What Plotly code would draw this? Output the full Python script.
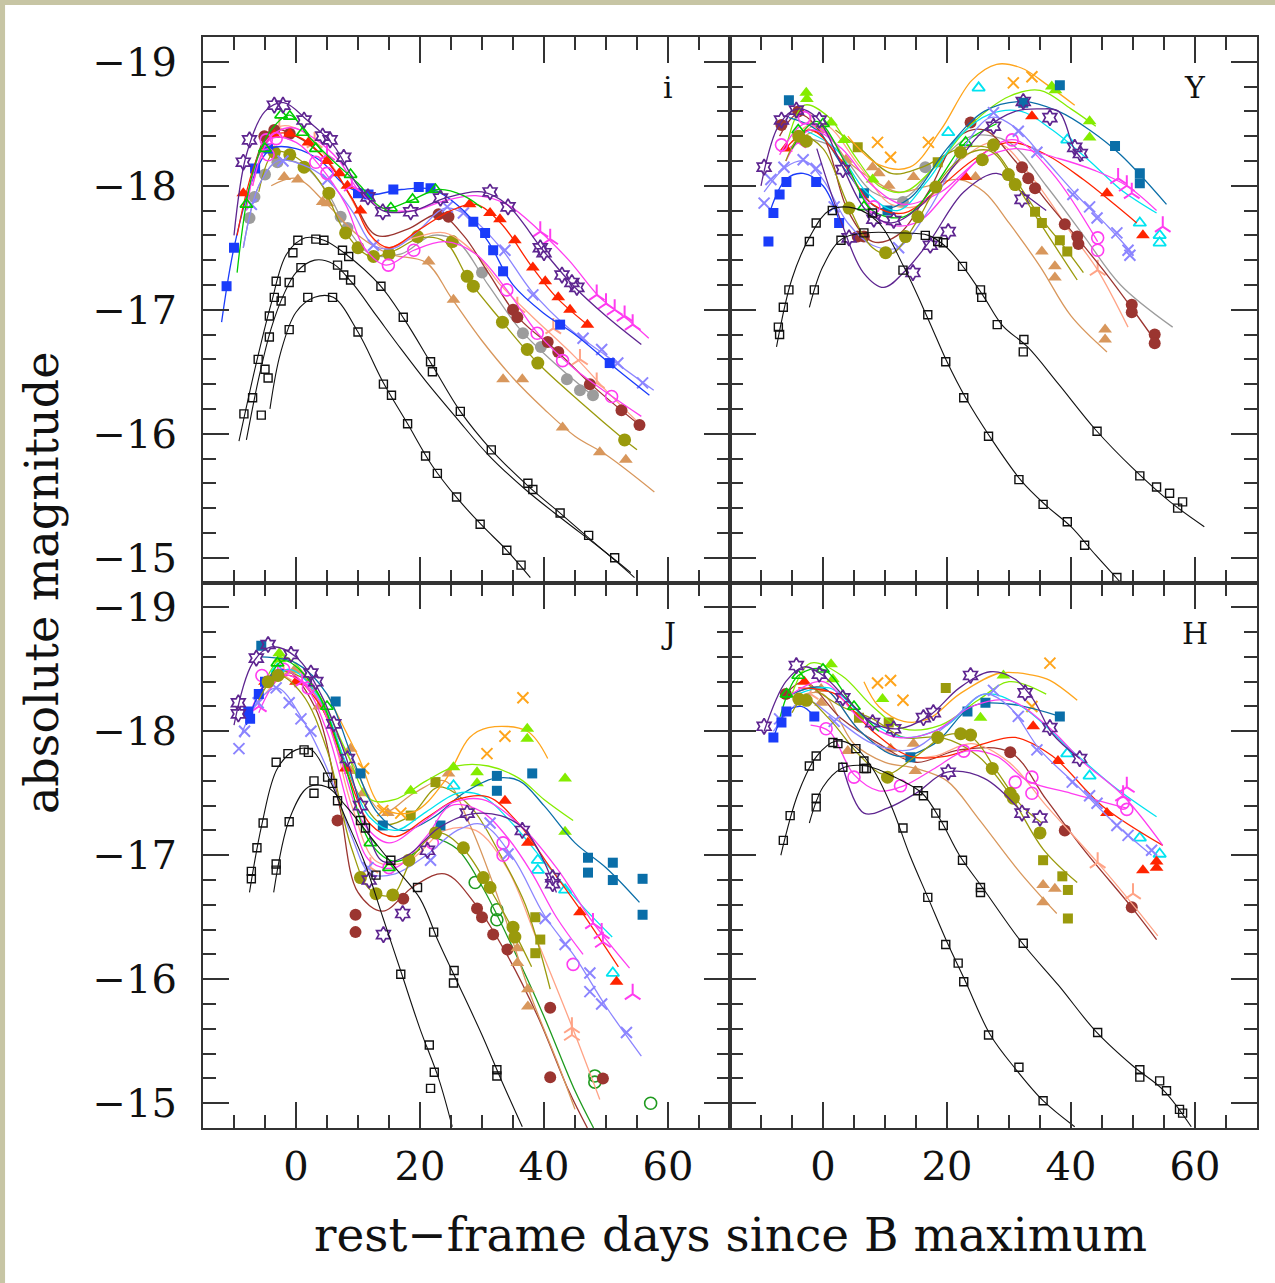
import plotly.graph_objects as go
from plotly.subplots import make_subplots

# ---------------- axis / tick data ----------------
x_range = [-15, 70]
y_range = [-14.8, -19.2]
y_tick_vals = [-19, -18, -17, -16, -15]
y_tick_text = ["\u221219", "\u221218", "\u221217", "\u221216", "\u221215"]
x_tick_vals = [0, 20, 40, 60]
x_tick_text = ["0", "20", "40", "60"]
panel_names = ["i", "Y", "J", "H"]
x_title = "rest\u2212frame days since B maximum"
y_title = "absolute magnitude"

# ---------------- panel i (days, abs mag) ----------------
i_blue_pts = [(-11.2, -17.19), (-10, -17.5), (-6.6, -18.14), (-4.5, -18.3), (10, -17.94), (11.7, -17.93),
              (15.7, -17.97), (19.8, -17.99), (21.7, -17.98), (28.6, -17.71), (30.5, -17.62), (31.8, -17.48),
              (33.4, -17.31), (42.6, -16.88), (50.6, -16.57)]
i_blue_fit = [(-12, -16.9), (-10, -17.5), (-7, -18.05), (-4, -18.3), (0, -18.3), (4, -18.2), (8, -18.0),
              (12, -17.93), (17, -17.97), (22, -17.97), (27, -17.8), (31, -17.55), (35, -17.2), (40, -16.97),
              (45, -16.8), (51, -16.55), (57, -16.31)]
i_red_pts = [(-8.5, -17.94), (-3.5, -18.41), (-1, -18.42), (2, -18.35), (5, -18.2), (7, -18.1), (8.3, -18.0),
             (10.4, -17.8), (28, -17.85), (31.3, -17.78), (32.9, -17.73), (35.3, -17.56), (38.2, -17.34),
             (40.2, -17.23), (42.3, -17.1), (44.2, -17.0), (47, -16.88)]
i_red_fit = [(-9.5, -17.6), (-6, -18.25), (-3, -18.42), (1, -18.38), (5, -18.2), (9, -17.9), (12, -17.6),
             (15, -17.5), (20, -17.65), (25, -17.8), (29, -17.85), (33, -17.7), (38, -17.35), (42, -17.1),
             (47, -16.88)]
i_green_pts = [(-8, -17.85), (-5, -18.3), (-2.4, -18.57), (-1, -18.56), (1.1, -18.43), (3.2, -18.3),
               (8.8, -18.09), (15.3, -17.82), (18.8, -17.89), (22.5, -17.97)]
i_green_fit = [(-9.5, -17.3), (-7, -18.1), (-4, -18.45), (-1, -18.57), (2, -18.4), (6, -18.2), (10, -18.02),
               (14, -17.82), (18, -17.87), (23, -17.97), (27, -17.92), (30, -17.82)]
i_purple_pts = [(-8.5, -18.19), (-7.5, -18.37), (-3.5, -18.65), (-2.1, -18.65), (1.3, -18.53), (4.3, -18.4),
                (5.5, -18.37), (7.7, -18.23), (11.6, -17.91), (14, -17.79), (18.5, -17.79), (23.3, -17.9),
                (31.3, -17.95), (34.2, -17.83), (39.4, -17.5), (40, -17.46), (42.9, -17.28), (44.5, -17.22),
                (45.3, -17.18)]
i_purple_fit = [(-10, -17.6), (-8, -18.25), (-5, -18.6), (-2, -18.67), (2, -18.52), (6, -18.33), (10, -18.0),
                (14, -17.8), (19, -17.8), (24, -17.9), (30, -17.95), (34, -17.85), (40, -17.47), (45, -17.18),
                (50, -16.95), (55.7, -16.72)]
i_magcirc_pts = [(-4.8, -18.37), (-3.2, -18.38), (-4.5, -18.25), (3.2, -18.19), (5, -18.1), (14.9, -17.36),
                 (19, -17.48), (34, -17.16), (38.9, -16.81), (43, -16.59), (50.9, -16.3)]
i_magcirc_fit = [(-7, -18.0), (-4, -18.38), (0, -18.35), (4, -18.15), (8, -17.85), (11, -17.5), (14.5, -17.36),
                 (19, -17.48), (24, -17.55), (29, -17.45), (34, -17.16), (39, -16.81), (45, -16.52), (51, -16.3),
                 (55.7, -16.14)]
i_magtri_pts = [(5, -18.25), (9, -18.0), (39.4, -17.63), (41, -17.57), (48.5, -17.12), (50, -17.05),
                (51.4, -17.0), (53, -16.95), (54.3, -16.88)]
i_magtri_fit = [(-8, -17.8), (-5, -18.35), (-1, -18.47), (3, -18.38), (7, -18.2), (10, -17.97), (14, -17.82),
                (19, -17.8), (24, -17.88), (29, -17.92), (34, -17.85), (39, -17.65), (44, -17.4), (49, -17.1),
                (54, -16.9), (56.9, -16.77)]
i_lslate_pts = [(-7.2, -17.85), (-2.1, -18.2), (5.1, -18.05), (12.5, -17.52), (24.4, -17.83), (27, -17.78),
                (33.7, -17.48), (38.2, -17.12), (46.3, -16.77), (49.3, -16.68), (51.9, -16.57), (55.9, -16.41)]
i_lslate_fit = [(-8.5, -17.5), (-6, -18.0), (-3, -18.2), (1, -18.17), (5, -18.05), (9, -17.8), (12.5, -17.52),
                (16, -17.5), (20, -17.65), (24, -17.82), (28, -17.75), (33, -17.5), (38, -17.15), (44, -16.85),
                (50, -16.63), (57.7, -16.35)]
i_grey_pts = [(-7.5, -17.74), (-6.7, -17.91), (-5, -18.09), (-3, -18.19), (7.2, -17.75), (8.3, -17.66),
              (30, -17.3), (36.6, -16.81), (39.5, -16.7), (43.7, -16.44), (45.8, -16.35), (47.9, -16.31)]
i_grey_fit = [(-8.5, -17.5), (-6, -18.0), (-3, -18.2), (1, -18.17), (5, -17.95), (8, -17.68), (12, -17.45),
              (17, -17.45), (22, -17.6), (26, -17.55), (31, -17.2), (36, -16.85), (41, -16.6), (48, -16.3)]
i_olive_pts = [(-3.5, -18.27), (-1, -18.25), (1.3, -18.15), (5.3, -17.94), (8, -17.62), (10, -17.5),
               (12.5, -17.43), (15, -17.45), (19.6, -17.59), (25.2, -17.55), (27.6, -17.27), (28.6, -17.19),
               (33.3, -16.9), (37.3, -16.68), (39, -16.57), (53, -15.95)]
i_olive_fit = [(-6, -17.95), (-3.5, -18.27), (0, -18.23), (4, -18.02), (8, -17.62), (12, -17.43), (16, -17.48),
               (20, -17.58), (24, -17.55), (28, -17.23), (33, -16.92), (39, -16.57), (46, -16.25), (53, -15.95),
               (55, -15.87)]
i_tan_pts = [(-1.9, -18.07), (0.3, -18.05), (4.3, -17.87), (5.1, -17.86), (21.4, -17.39), (25.4, -17.08),
             (33.4, -16.44), (36.5, -16.44), (43, -16.05), (49, -15.85), (53.2, -15.79)]
i_tan_fit = [(-4, -18.0), (0, -18.06), (5, -17.85), (10, -17.6), (15, -17.45), (21, -17.38), (25, -17.1),
             (30, -16.75), (35, -16.45), (40, -16.2), (45, -15.98), (50, -15.83), (57.8, -15.53)]
i_salmon_pts = [(-2.7, -18.47), (3, -18.35), (35.7, -17.02), (41.5, -16.85), (45.8, -16.6), (48.5, -16.41)]
i_salmon_fit = [(-7, -18.0), (-3, -18.47), (1, -18.44), (6, -18.15), (10, -17.8), (14, -17.5), (19, -17.58),
                (24, -17.62), (29, -17.45), (33, -17.2), (38, -16.95), (45, -16.62), (50, -16.35), (55, -16.1)]
i_brown_pts = [(-5.1, -18.4), (-3.5, -18.45), (-1, -18.42), (23, -17.77), (24.6, -17.75), (35, -17.0),
               (35.7, -16.94), (40.6, -16.74), (42.3, -16.66), (47.4, -16.4), (52.5, -16.19), (55.4, -16.07)]
i_brown_fit = [(-7, -18.1), (-4, -18.45), (0, -18.4), (5, -18.2), (9, -17.9), (13, -17.6), (18, -17.65),
               (23, -17.77), (27, -17.6), (31, -17.3), (36, -16.93), (42, -16.67), (48, -16.38), (55.4, -16.07)]
i_black_a_pts = [(-8.4, -16.16), (-6.1, -16.6), (-4.3, -16.95), (-3.2, -17.23), (-0.5, -17.46), (0.3, -17.56),
                 (3.2, -17.57), (4.5, -17.56), (7.5, -17.48), (8.5, -17.43), (13.7, -17.19), (17.3, -16.94),
                 (21.7, -16.58), (22, -16.5), (26.5, -16.18), (31.5, -15.87), (37.4, -15.6), (38.2, -15.55),
                 (42.6, -15.36), (47.2, -15.18), (51.4, -15.0)]
i_black_a_fit = [(-9.2, -15.94), (-6.5, -16.55), (-4, -17.05), (-1.5, -17.45), (1.5, -17.58), (4.5, -17.56),
                 (8, -17.45), (13.5, -17.2), (17.5, -16.92), (22, -16.55), (26.5, -16.18), (31.5, -15.87),
                 (37.4, -15.58), (42.6, -15.36), (47.2, -15.16), (51.4, -14.98), (54.6, -14.84)]
i_black_b_pts = [(-7, -16.29), (-5, -16.52), (-4.3, -16.78), (-3.5, -17.1), (-2.4, -17.07), (-1.1, -17.22),
                 (0.8, -17.34), (6.7, -17.36), (7.7, -17.28), (8.8, -17.24)]
i_black_b_fit = [(-8, -15.95), (-6, -16.45), (-4, -16.85), (-2, -17.12), (0, -17.3), (3, -17.4), (6, -17.37),
                 (9, -17.22), (13, -16.95), (17, -16.68), (21, -16.42), (26, -16.12), (31, -15.83), (37, -15.55),
                 (43, -15.31), (49, -15.08), (54, -14.88)]
i_black_c_pts = [(-5.6, -16.15), (-4.5, -16.45), (-1.1, -16.84), (1.9, -17.1), (5.9, -17.1), (10, -16.82),
                 (14.1, -16.4), (15.4, -16.31), (18, -16.08), (20.9, -15.82), (22.8, -15.68), (25.9, -15.49),
                 (29.7, -15.27), (34, -15.06), (36.3, -14.94)]
i_black_c_fit = [(-4.2, -16.2), (-2.5, -16.65), (0, -16.98), (3, -17.1), (6, -17.1), (10, -16.82), (14, -16.42),
                 (18, -16.08), (22, -15.74), (26, -15.48), (30, -15.26), (34, -15.06), (37.8, -14.84)]

# ---------------- panel Y ----------------
Y_blue_pts = [(-8.8, -17.55), (-8, -17.78), (-7, -17.93), (-5.9, -18.03), (-1.1, -18.03), (2.6, -17.7)]
Y_blue_fit = [(-8.5, -17.8), (-6, -18.05), (-3.2, -18.1), (0, -18.0), (2.6, -17.72)]
Y_lslate_pts = [(-9.5, -17.86), (-8.4, -18.05), (-6.3, -18.15), (-3.2, -18.21), (-1.1, -18.14), (1.8, -17.83),
                (12.2, -17.5), (27.5, -18.59), (31.5, -18.44), (34.5, -18.27), (40.3, -17.93), (43, -17.83),
                (44.2, -17.74), (47.4, -17.62), (49.2, -17.48), (49.5, -17.44)]
Y_lslate_fit = [(-9.5, -17.95), (-6, -18.15), (-3, -18.2), (0, -18.05), (4, -17.7), (8, -17.52), (12, -17.5),
                (17, -17.8), (22, -18.25), (27, -18.55), (31, -18.47), (36, -18.2), (41, -17.92), (46, -17.67),
                (50, -17.45)]
Y_purple_pts = [(-9.5, -18.15), (-6.7, -18.53), (-4.3, -18.61), (-0.6, -18.53), (3.2, -18.13), (8.2, -17.73),
                (11.4, -17.72), (27.5, -18.48), (32.3, -18.68), (36.6, -18.55), (40.6, -18.31), (41.5, -18.26)]
Y_purple_fit = [(-10, -18.0), (-7, -18.5), (-4, -18.62), (-1, -18.55), (3, -18.17), (7, -17.8), (11, -17.7),
                (16, -17.85), (21, -18.15), (26, -18.45), (31, -18.6), (35, -18.62), (38, -18.6), (40.5, -18.3),
                (42, -18.2)]
Y_purple2_pts = [(4.2, -17.58), (14.5, -17.3), (17.3, -17.52), (20.2, -17.63), (32.1, -17.89)]
Y_purple2_fit = [(-1, -18.3), (3, -17.7), (6.5, -17.3), (9.8, -17.18), (13, -17.3), (17.3, -17.56),
                 (22.7, -17.95), (28, -18.1), (32, -17.95), (36, -17.8)]
Y_lime_pts = [(-2.7, -18.75), (-2.6, -18.7), (1.3, -18.51), (3.4, -18.37), (8, -18.05), (36.9, -18.8),
              (37.5, -18.77), (43, -18.52), (43, -18.39)]
Y_lime_fit = [(-6, -18.3), (-3, -18.65), (1, -18.55), (5, -18.25), (9, -18.0), (13, -17.95), (18, -18.15),
              (24, -18.5), (30, -18.72), (35, -18.77), (40, -18.62), (44, -18.48)]
Y_orange_pts = [(8.8, -18.35), (10.9, -18.23), (17, -18.35), (30.7, -18.83), (33.7, -18.88)]
Y_orange_fit = [(4, -18.4), (9, -18.17), (14, -18.15), (19, -18.45), (24, -18.85), (28, -18.98), (32, -18.95),
                (36, -18.82), (40.6, -18.65)]
Y_steel_pts = [(-5.5, -18.69), (6.6, -17.94), (10.4, -17.8), (32.3, -18.67), (38.2, -18.81), (47.1, -18.32),
               (51.1, -18.1), (51.1, -18.02)]
Y_steel_fit = [(-5.5, -18.55), (-1, -18.45), (4, -18.1), (9, -17.82), (14, -17.9), (20, -18.3), (26, -18.6),
               (32, -18.68), (38, -18.6), (43, -18.45), (48, -18.25), (55.4, -17.85)]
Y_cyan_pts = [(20.2, -18.43), (25.1, -18.79), (39.4, -18.37), (51.1, -17.7), (54.3, -17.6), (54.3, -17.54)]
Y_cyan_fit = [(-3, -18.45), (2, -18.3), (7, -17.95), (12, -17.8), (17, -18.05), (22, -18.4), (27, -18.58),
              (32, -18.6), (37, -18.45), (43, -18.2), (48, -17.97), (53.8, -17.78)]
Y_red_pts = [(-6, -18.3), (23, -18.07), (33.7, -18.56), (45.8, -17.94), (51.6, -17.6)]
Y_red_fit = [(-6, -18.3), (-2, -18.45), (3, -18.2), (8, -17.85), (13, -17.78), (18, -17.95), (24, -18.2),
             (30, -18.35), (36, -18.25), (42, -18.05), (47, -17.85), (50.6, -17.7)]
Y_magcirc_pts = [(-6.7, -18.33), (-3, -18.55), (8.2, -17.83), (30.5, -18.37), (44.3, -17.58), (44.3, -17.48)]
Y_magcirc_fit = [(-7, -18.25), (-3, -18.5), (1, -18.4), (6, -17.95), (10, -17.7), (15, -17.7), (21, -18.0),
                 (27, -18.3), (31, -18.37), (37, -18.1), (44.3, -17.55)]
Y_magtri_pts = [(-4, -18.35), (47.6, -18.06), (49, -18.0), (49.8, -17.94), (54.8, -17.67)]
Y_magtri_fit = [(-6, -18.2), (-2, -18.45), (3, -18.3), (8, -18.0), (13, -17.85), (19, -17.95), (25, -18.2),
                (31, -18.3), (38, -18.22), (44, -18.12), (49, -18.0), (53.8, -17.8)]
Y_olive_pts = [(-3.9, -18.4), (-2.7, -18.36), (4.2, -17.82), (10.1, -17.46), (13.3, -17.59), (15.3, -17.75),
               (18.2, -17.99), (22.2, -18.27), (25.7, -18.21), (27.5, -18.33), (29.9, -18.09), (31, -18.01)]
Y_olive_fit = [(-6, -18.2), (-3.5, -18.4), (0, -18.3), (4, -17.85), (8, -17.5), (11, -17.45), (15, -17.7),
               (19, -18.05), (23, -18.25), (27, -18.28), (31, -18.02), (35, -17.7), (41, -17.24)]
Y_olivesq_pts = [(5.6, -18.31), (18.5, -18.19), (34.2, -17.79), (35.3, -17.7), (38.2, -17.56), (39.4, -17.47)]
Y_olivesq_fit = [(2, -18.45), (6, -18.3), (11, -18.1), (16, -18.15), (22, -18.3), (27, -18.3), (31, -18.05),
                 (35, -17.75), (39, -17.5), (42, -17.3)]
Y_tan_pts = [(-0.3, -18.45), (3.7, -18.21), (8, -18.15), (9, -18.1), (10.6, -18.0), (14.6, -18.07),
             (24.6, -18.07), (35.3, -17.47), (37.4, -17.35), (37.4, -17.26), (45.5, -16.84), (45.5, -16.76)]
Y_tan_fit = [(-3, -18.4), (0, -18.45), (4, -18.2), (8, -18.05), (12, -17.95), (17, -18.0), (22, -18.05),
             (26, -17.95), (30, -17.7), (35, -17.35), (40, -16.95), (45.8, -16.66)]
Y_brown_pts = [(-6.7, -18.49), (-4, -18.6), (5.6, -17.59), (6.6, -17.59), (23.8, -18.51), (32.1, -18.15),
               (33.1, -18.06), (34.2, -17.98), (39, -17.69), (41, -17.59), (41.2, -17.53), (49.8, -17.04),
               (49.8, -16.98), (53.5, -16.8), (53.5, -16.73)]
Y_brown_fit = [(-7, -18.4), (-4, -18.58), (0, -18.4), (4, -17.8), (8, -17.55), (12, -17.6), (17, -17.95),
               (22, -18.4), (26, -18.45), (31, -18.2), (36, -17.88), (41, -17.58), (46, -17.27), (50, -17.0),
               (54, -16.72)]
Y_grey_pts = [(12.9, -17.87), (16.5, -18.15)]
Y_grey_fit = [(-4, -18.4), (2, -18.3), (8, -17.95), (13, -17.9), (18, -18.15), (24, -18.4), (30, -18.35),
              (36, -18.0), (42, -17.6), (48, -17.2), (56.4, -16.86)]
Y_salmon_pts = [(-2, -18.5), (44.3, -17.32)]
Y_salmon_fit = [(-5, -18.35), (0, -18.5), (6, -18.15), (11, -17.85), (16, -17.85), (22, -18.2), (28, -18.35),
                (34, -18.05), (40, -17.62), (44.3, -17.32), (49.2, -16.86)]
Y_green_pts = [(-4, -18.45), (0, -18.5), (6.6, -17.83), (23, -18.35)]
Y_green_fit = [(-5, -18.3), (-1, -18.52), (4, -18.15), (8, -17.8), (13, -17.75), (18, -18.0), (23, -18.35),
               (28, -18.5)]
Y_black_a_pts = [(-7.2, -16.86), (-7, -16.8), (-6.4, -17.02), (-5.5, -17.16), (-2.2, -17.55), (-1.1, -17.7),
                 (1.5, -17.8), (8, -17.78), (12.9, -17.32), (16.9, -16.96), (19.8, -16.58), (22.7, -16.29),
                 (26.7, -15.98), (31.6, -15.63), (35.5, -15.43), (39.4, -15.29), (42.2, -15.1), (47.4, -14.84)]
Y_black_a_fit = [(-7.5, -16.7), (-5, -17.25), (-2, -17.6), (1, -17.8), (5, -17.82), (9, -17.7), (13, -17.35),
                 (17, -16.92), (20, -16.58), (23, -16.29), (27, -15.97), (32, -15.62), (36, -15.42),
                 (40, -15.25), (44, -15.02), (48, -14.8)]
Y_black_b_pts = [(-1.4, -17.16), (2.9, -17.56), (6.6, -17.62), (16.5, -17.6), (18.5, -17.55), (19.4, -17.54),
                 (22.5, -17.35), (25.4, -17.16), (25.6, -17.1), (28.1, -16.88), (32.4, -16.76), (32.3, -16.66),
                 (44.2, -16.02), (51.1, -15.66), (53.8, -15.57), (55.9, -15.52), (57.2, -15.4), (58, -15.45)]
Y_black_b_fit = [(-2.2, -17.02), (0, -17.35), (3, -17.57), (7, -17.62), (12, -17.62), (17, -17.6), (20, -17.5),
                 (23, -17.32), (26, -17.1), (29, -16.87), (33, -16.7), (38, -16.4), (44, -16.03), (50, -15.72),
                 (56, -15.45), (61.5, -15.25)]

# ---------------- panel J ----------------
J_steel_pts = [(-5.6, -18.69), (6.4, -18.24), (10.4, -17.66), (14, -17.24), (23.3, -17.24), (32.4, -17.64),
               (32.4, -17.52), (38.1, -17.66), (47.1, -16.98), (47.1, -16.86), (51.1, -16.94), (51.1, -16.8),
               (55.9, -16.81), (55.9, -16.52)]
J_steel_fit = [(-5.6, -18.6), (0, -18.55), (5, -18.3), (9, -17.8), (13, -17.35), (17, -17.2), (22, -17.3),
               (27, -17.5), (32, -17.62), (36, -17.6), (40, -17.4), (45, -17.1), (50, -16.9), (55.4, -16.62)]
J_purple_pts = [(-9.3, -18.23), (-9.3, -18.14), (-6.4, -18.59), (-4.5, -18.7), (-0.8, -18.62), (2.4, -18.47),
                (3.2, -18.4), (6.1, -18.06), (8.3, -17.78), (10.4, -17.4), (27.6, -17.34), (36.5, -17.2),
                (41.4, -16.82), (41.4, -16.77)]
J_purple_fit = [(-10, -18.05), (-7, -18.55), (-4, -18.68), (0, -18.6), (4, -18.3), (8, -17.8), (11, -17.3),
                (14, -16.95), (18, -17.0), (23, -17.22), (28, -17.33), (33, -17.32), (37, -17.2), (40, -16.95),
                (42, -16.7)]
J_purple2_pts = [(11.8, -16.8), (14.1, -16.36), (17.2, -16.53), (21.2, -17.04)]
J_lslate_pts = [(-9.2, -17.86), (-8.3, -18.0), (-6.1, -18.23), (-3.2, -18.35), (-1.1, -18.23), (0.8, -18.1),
                (2.4, -18.0), (11.6, -16.9), (21.7, -16.96), (31.3, -17.26), (34.2, -17.01), (40.2, -16.49),
                (43.4, -16.28), (47.4, -16.05), (47.4, -15.9), (49.3, -15.8), (53.3, -15.57)]
J_lslate_fit = [(-9, -17.95), (-6, -18.25), (-3, -18.35), (1, -18.1), (5, -17.7), (9, -17.15), (12, -16.85),
                (16, -16.85), (21, -17.0), (26, -17.2), (30, -17.25), (35, -16.98), (40, -16.52), (45, -16.18),
                (50, -15.78), (55.7, -15.38)]
J_magcirc_pts = [(-5.5, -18.45), (-2, -18.5), (2, -18.35), (15, -16.9), (22, -17.1), (33.4, -17.1),
                 (33.4, -17.0), (44.7, -16.12)]
J_magcirc_fit = [(-7, -18.2), (-3, -18.5), (1, -18.4), (5, -18.0), (9, -17.3), (12, -16.95), (16, -16.9),
                 (21, -17.15), (25, -17.4), (30, -17.35), (34, -17.15), (38, -16.86), (42, -16.5),
                 (46.3, -16.2)]
J_magtri_pts = [(-6, -18.2), (1, -18.4), (47.9, -16.45), (49.3, -16.37), (49.5, -16.3), (54.3, -15.88)]
J_magtri_fit = [(-6, -18.15), (-2, -18.45), (3, -18.3), (7, -17.8), (11, -17.25), (15, -17.1), (20, -17.25),
                (25, -17.42), (30, -17.45), (36, -17.25), (42, -16.9), (48, -16.45), (53.8, -16.09)]
J_cyan_pts = [(-3, -18.5), (25.4, -17.56), (39, -16.96), (39, -16.88), (43.4, -16.72), (51.1, -16.05)]
J_cyan_fit = [(-5, -18.35), (-1, -18.5), (4, -18.25), (8, -17.75), (12, -17.3), (16, -17.2), (21, -17.35),
              (26, -17.5), (30, -17.48), (35, -17.25), (40, -16.95), (46, -16.6), (51, -16.34)]
J_red_pts = [(-5, -18.4), (0, -18.4), (8, -17.7), (33.7, -17.44), (37.4, -17.1), (45.8, -16.54), (51.7, -15.98)]
J_red_fit = [(-5, -18.35), (-1, -18.45), (4, -18.2), (8, -17.7), (12, -17.25), (16, -17.15), (21, -17.3),
             (26, -17.45), (31, -17.47), (36, -17.25), (41, -16.9), (46, -16.55), (52, -16.1)]
J_lime_pts = [(-2.7, -18.63), (-2.7, -18.58), (18.5, -17.52), (25.4, -17.71), (29.2, -17.67), (29.2, -17.58),
              (37.3, -18.02), (37.3, -17.94), (43.4, -17.62), (43.4, -17.19)]
J_lime_fit = [(-5, -18.4), (-2, -18.6), (3, -18.35), (8, -17.85), (12, -17.45), (16, -17.45), (21, -17.6),
              (26, -17.72), (31, -17.72), (36, -17.62), (40, -17.45), (44.7, -17.28)]
J_orange_pts = [(10.9, -17.7), (14, -17.36), (16.9, -17.34), (30.8, -17.82), (33.7, -17.96), (36.6, -18.27)]
J_orange_fit = [(5, -18.3), (10, -17.8), (14, -17.38), (19, -17.35), (24, -17.6), (28, -17.95), (31, -18.03),
                (37.3, -18.0), (40.6, -17.78)]
J_olive_pts = [(-4.5, -18.4), (-2.9, -18.45), (10.4, -16.82), (12.9, -16.69), (15.6, -16.68), (18.2, -16.96),
               (22.5, -17.18), (27, -17.06), (30.2, -16.82), (31.3, -16.74), (35, -16.42), (35.3, -16.34)]
J_olive_fit = [(-6, -18.25), (-3, -18.45), (1, -18.3), (5, -17.85), (9, -17.05), (12, -16.72), (15.5, -16.68),
               (19, -17.0), (23, -17.18), (27, -17.05), (31, -16.75), (35, -16.4), (38, -16.1)]
J_olivesq_pts = [(18.5, -17.32), (22.5, -17.59), (38.6, -16.5), (39.4, -16.32), (38.6, -16.21)]
J_olivesq_fit = [(-3, -18.5), (2, -18.4), (6, -18.0), (10, -17.5), (14, -17.25), (18.5, -17.32), (23, -17.55),
                 (28, -17.4), (33, -17.0), (37, -16.6), (41, -15.92)]
J_tan_pts = [(-0.3, -18.49), (3.7, -18.2), (8.8, -17.86), (8.8, -17.68), (10.8, -17.5), (14.8, -17.34),
             (24.6, -17.66), (35.7, -16.25), (35.7, -16.13), (37.4, -15.92), (37.4, -15.78)]
J_tan_fit = [(-3, -18.4), (0, -18.5), (4, -18.2), (9, -17.75), (14, -17.35), (19, -17.5), (24, -17.6),
             (28, -17.25), (33, -16.6), (38, -15.85), (42, -15.35), (45, -14.95)]
J_brown_pts = [(6.7, -17.28), (9.6, -16.52), (9.6, -16.38), (17.3, -16.65), (29.2, -16.57), (30, -16.5),
               (31.8, -16.36), (34.1, -16.24), (41, -15.77), (41, -15.21), (49.5, -15.2)]
J_brown_fit = [(-6, -18.3), (-2, -18.5), (3, -18.2), (7, -17.4), (10, -16.7), (14, -16.55), (19, -16.75),
               (24, -16.85), (29, -16.6), (34, -16.2), (39, -15.7), (44, -15.1), (47, -14.8)]
J_dkgreen_pts = [(28.9, -16.78), (32.4, -16.56), (32.4, -16.48), (48.2, -15.22), (48.2, -15.17), (57.2, -15.0)]
J_dkgreen_fit = [(22, -17.15), (26, -17.05), (30, -16.75), (35, -16.25), (40, -15.7), (45, -15.1), (48, -14.8)]
J_salmon_pts = [(-2, -18.45), (12, -16.9), (44.5, -15.61), (44.5, -15.55)]
J_salmon_fit = [(-5, -18.3), (0, -18.5), (5, -18.1), (9, -17.4), (13, -16.95), (18, -16.95), (24, -17.2),
                (29, -17.2), (34, -16.9), (39, -16.3), (44.5, -15.62), (49, -15.03)]
J_blue_pts = [(-7.7, -18.16), (-7.4, -18.1), (-6, -18.3), (-5, -18.4)]
J_blue_fit = [(-8, -18.05), (-6, -18.3), (-4, -18.45), (-2, -18.5)]
J_green_pts = [(-3, -18.55), (5, -18.2), (12, -17.1), (15, -16.9)]
J_green_fit = [(-5, -18.35), (-2, -18.57), (3, -18.35), (8, -17.7), (12, -17.1), (16, -16.95), (20, -17.05)]
J_black_a_pts = [(-7.2, -16.81), (-7.2, -16.87), (-6.3, -17.06), (-5.3, -17.26), (-3.2, -17.75), (-1.3, -17.82),
                 (1.3, -17.85), (2, -17.83), (5.1, -17.63), (5.9, -17.58), (6.7, -17.44), (12.9, -16.84),
                 (16.9, -16.04), (21.5, -15.47), (22.3, -15.25), (21.7, -15.12)]
J_black_a_fit = [(-7.5, -16.7), (-5.5, -17.25), (-3, -17.7), (0, -17.85), (2.5, -17.85), (5.5, -17.6),
                 (8, -17.3), (11, -16.95), (14, -16.5), (17, -16.05), (20, -15.6), (23, -15.2), (25.2, -14.81)]
J_black_b_pts = [(-3.2, -16.88), (-3.2, -16.93), (-1.1, -17.27), (2.9, -17.5), (2.9, -17.6), (10.4, -17.28),
                 (11.2, -17.22), (15.3, -16.96), (19.6, -16.74), (22.2, -16.38), (25.5, -16.07), (25.4, -15.97),
                 (32.4, -15.27), (32.4, -15.22)]
J_black_b_fit = [(-3.6, -16.7), (-1, -17.3), (2, -17.55), (5, -17.55), (8, -17.4), (12, -17.15), (16, -16.9),
                 (20, -16.65), (23, -16.3), (26, -15.98), (30, -15.55), (33, -15.2), (36.5, -14.81)]

# ---------------- panel H ----------------
H_blue_pts = [(-8, -17.95), (-6.7, -18.07), (-5.9, -18.16), (-1.4, -18.12)]
H_blue_fit = [(-8, -17.95), (-6, -18.15), (-3.5, -18.2), (-1.4, -18.12)]
H_purple_pts = [(-9.5, -18.04), (-4.3, -18.53), (-0.6, -18.46), (3.2, -18.27), (8, -18.07), (11.4, -18.02),
                (16.2, -18.11), (17.8, -18.15), (23.8, -18.45), (32.6, -18.31), (36.6, -18.03), (41.4, -17.78)]
H_purple_fit = [(-9.5, -18.0), (-6, -18.4), (-3, -18.52), (0, -18.45), (4, -18.25), (8, -18.07), (12, -18.02),
                (17, -18.12), (22, -18.35), (27, -18.48), (31, -18.42), (34, -18.25), (37, -17.98),
                (41.4, -17.78)]
H_purple2_pts = [(20.2, -17.67), (32.1, -17.34), (35, -17.3)]
H_purple2_fit = [(3, -17.75), (6.6, -17.34), (10.4, -17.38), (15, -17.5), (20, -17.67), (26, -17.62),
                 (32, -17.35)]
H_lime_pts = [(1.3, -18.54), (1.6, -18.42), (9.6, -18.26), (25.4, -18.11), (29.1, -18.45)]
H_lime_fit = [(-5, -18.3), (-2, -18.55), (3, -18.45), (8, -18.2), (13, -18.02), (19, -18.05), (25, -18.25),
              (30, -18.4), (36, -18.3)]
H_orange_pts = [(8.8, -18.39), (10.9, -18.41), (12.9, -18.25), (33.7, -18.2), (36.6, -18.55)]
H_orange_fit = [(6.6, -18.4), (9, -18.2), (13, -18.08), (17, -18.1), (22, -18.3), (28.6, -18.47), (34, -18.45),
                (36.6, -18.41), (41, -18.25)]
H_steel_pts = [(14.1, -17.79), (23.3, -18.16), (26.2, -18.23), (38.2, -18.12)]
H_steel_fit = [(-5, -18.3), (0, -18.35), (6, -18.0), (12, -17.8), (18, -17.9), (24, -18.2), (30, -18.22),
               (38.2, -18.12)]
H_olivesq_pts = [(5.8, -18.11), (10.6, -18.07), (19.8, -18.35), (35.5, -16.96), (38.6, -16.83), (39.5, -16.72),
                 (39.5, -16.49)]
H_olivesq_fit = [(-3, -18.4), (3, -18.2), (8, -18.1), (13, -17.95), (19, -17.95), (25, -17.8), (30, -17.5),
                 (35.5, -17.05), (41, -16.78)]
H_olive_pts = [(-3.9, -18.26), (-2.7, -18.25), (10.4, -17.63), (18.5, -17.95), (22.2, -17.98), (23.8, -17.97),
               (27.3, -17.7), (30.2, -17.5), (30.7, -17.46), (35, -17.18)]
H_olive_fit = [(-5, -18.15), (-3, -18.27), (1, -18.1), (6, -17.8), (10, -17.65), (15, -17.8), (20, -17.97),
               (24, -17.95), (28, -17.68), (32, -17.4), (35.3, -17.26)]
H_tan_pts = [(-0.3, -18.34), (-0.3, -18.23), (4, -17.84), (10.9, -17.86), (14.6, -17.9), (14.9, -17.68),
             (35.5, -16.76), (37.4, -16.73), (35.5, -16.62)]
H_tan_fit = [(-3, -18.3), (0, -18.3), (5, -17.9), (10, -17.75), (15, -17.7), (20, -17.6), (25, -17.3),
             (31.8, -16.86), (37.7, -16.53)]
H_brown_pts = [(-6, -18.3), (30.2, -17.83), (39, -17.2), (49.8, -16.58)]
H_brown_fit = [(-6, -18.3), (-3, -18.4), (3, -18.1), (9, -17.9), (15, -17.75), (22, -17.85), (30.2, -17.83),
               (36, -17.45), (42, -17.05), (49.8, -16.58), (53.8, -16.32)]
H_magcirc_pts = [(0.5, -18.02), (5, -17.63), (12.5, -17.56), (22.7, -17.84), (31, -17.59), (33.7, -17.63),
                 (33.7, -17.5), (48.4, -17.42), (49, -17.37)]
H_magcirc_fit = [(-2, -18.05), (1, -18.0), (5, -17.65), (9, -17.52), (13, -17.56), (18, -17.7), (23, -17.84),
                 (28, -17.8), (33, -17.6), (40, -17.5), (49, -17.38)]
H_magtri_pts = [(48.4, -17.48), (49, -17.55)]
H_magtri_fit = [(-5, -18.3), (0, -18.4), (6, -18.1), (12, -17.95), (18, -18.0), (24, -18.2), (30, -18.25),
                (36, -18.05), (42, -17.75), (48.4, -17.48), (54.8, -17.08)]
H_cyan_pts = [(39.4, -17.82), (43, -17.64), (51.1, -17.14), (54.3, -17.01)]
H_cyan_fit = [(-4, -18.3), (1, -18.35), (7, -18.1), (13, -17.95), (20, -18.05), (26, -18.3), (32, -18.2),
              (40, -17.85), (47, -17.55), (53.8, -17.31)]
H_red_pts = [(-3, -18.4), (33.9, -18.04), (37.9, -17.76), (45.8, -17.34), (51.6, -16.88), (53.8, -16.9),
             (53.8, -16.95)]
H_red_fit = [(-4, -18.35), (2, -18.3), (8, -18.0), (14, -17.8), (20, -17.8), (26, -17.9), (31, -17.95),
             (37, -17.8), (45, -17.4), (54.8, -17.08)]
H_lslate_pts = [(-7, -18.1), (-3, -18.25), (1.8, -18.08), (27.5, -18.33), (31.5, -18.12), (34.5, -17.85),
                (40.2, -17.59), (43, -17.48), (44.2, -17.42), (47.4, -17.24), (49.2, -17.16), (53, -17.04)]
H_lslate_fit = [(-8, -18.0), (-3, -18.25), (2, -18.1), (8, -17.9), (14, -17.85), (20, -18.05), (26, -18.3),
                (30, -18.2), (35, -17.85), (41, -17.56), (47, -17.26), (53, -17.0)]
H_salmon_pts = [(-2, -18.3), (44.3, -16.94), (50, -16.69)]
H_salmon_fit = [(-5, -18.3), (0, -18.35), (6, -18.0), (12, -17.8), (18, -17.8), (24, -17.9), (30, -17.75),
                (36, -17.4), (44.3, -16.94), (50, -16.6), (54, -16.35)]
H_green_pts = [(-5.9, -18.3), (-4, -18.45), (0, -18.5), (5, -18.2)]
H_green_fit = [(-7, -18.1), (-4, -18.45), (0, -18.5), (5, -18.2), (9, -18.0)]
H_black_a_pts = [(-6.4, -17.12), (-5.3, -17.32), (-2.2, -17.72), (-1.1, -17.8), (1.6, -17.91), (2.4, -17.9),
                 (5.3, -17.86), (6.6, -17.76), (7, -17.7), (12.9, -17.22), (16.9, -16.66), (19.8, -16.28),
                 (21.8, -16.13), (22.7, -15.98), (26.7, -15.55), (31.6, -15.29), (35.5, -15.02)]
H_black_a_fit = [(-6.8, -17.0), (-4, -17.5), (-1, -17.8), (2, -17.92), (5, -17.88), (8, -17.7), (11, -17.4),
                 (14, -17.0), (17, -16.65), (20, -16.3), (23, -15.98), (27, -15.55), (31, -15.28),
                 (35.5, -15.02), (40.6, -14.81)]
H_black_b_pts = [(-1.1, -17.46), (-1.1, -17.39), (3.2, -17.71), (6.6, -17.7), (15.3, -17.52), (16.2, -17.48),
                 (18.2, -17.34), (19.4, -17.24), (22.5, -16.96), (25.4, -16.74), (25.4, -16.7), (32.3, -16.29),
                 (44.3, -15.57), (51.1, -15.27), (51.1, -15.21), (54.3, -15.18), (55.4, -15.1), (57.5, -14.95),
                 (58, -14.92)]
H_black_b_fit = [(-2.2, -17.26), (0, -17.55), (3, -17.7), (7, -17.72), (12, -17.62), (16, -17.5), (19, -17.28),
                 (22, -17.0), (26, -16.72), (32, -16.3), (38, -15.95), (44, -15.58), (50, -15.3), (55, -15.1),
                 (59.4, -14.81)]

# ---------------- styles (colour, symbol, size, stroke width) ----------------
STYLE = {
    "blue": ("#1a3cfa", "square", 10, 0),
    "red": ("#ff2400", "triangle-up", 12, 0),
    "green": ("#00cc00", "triangle-up-open", 11, 1.6),
    "purple": ("#5e2590", "hexagram-open", 12, 1.7),
    "magcirc": ("#ff3cf0", "circle-open", 12, 1.6),
    "magtri": ("#ff3cf0", "y-up-open", 13, 2),
    "lslate": ("#8c85ff", "x-thin-open", 11, 2),
    "grey": ("#9c9c9c", "circle", 12, 0),
    "olive": ("#9a9a0c", "circle", 13, 0),
    "olivesq": ("#9a9a0c", "square", 10, 0),
    "tan": ("#d8975c", "triangle-up", 12, 0),
    "salmon": ("#ffa386", "y-up-open", 13, 2),
    "brown": ("#9b3530", "circle", 12, 0),
    "lime": ("#84ec00", "triangle-up", 12, 0),
    "orange": ("#ffa51c", "x-thin-open", 11, 2),
    "steel": ("#0a6ea8", "square", 10, 0),
    "cyan": ("#00e3f0", "triangle-up-open", 11, 1.8),
    "dkgreen": ("#1e9a1e", "circle-open", 12, 1.6),
    "black": ("#111111", "square-open", 8, 1.4),
}

PANELS = [
    (1, 1, [("grey", i_grey_pts, i_grey_fit), ("tan", i_tan_pts, i_tan_fit), ("olive", i_olive_pts, i_olive_fit),
            ("salmon", i_salmon_pts, i_salmon_fit), ("brown", i_brown_pts, i_brown_fit),
            ("lslate", i_lslate_pts, i_lslate_fit), ("blue", i_blue_pts, i_blue_fit),
            ("red", i_red_pts, i_red_fit), ("magcirc", i_magcirc_pts, i_magcirc_fit),
            ("magtri", i_magtri_pts, i_magtri_fit), ("green", i_green_pts, i_green_fit),
            ("purple", i_purple_pts, i_purple_fit),
            ("black", i_black_a_pts, i_black_a_fit), ("black", i_black_b_pts, i_black_b_fit),
            ("black", i_black_c_pts, i_black_c_fit)]),
    (1, 2, [("grey", Y_grey_pts, Y_grey_fit), ("tan", Y_tan_pts, Y_tan_fit), ("salmon", Y_salmon_pts, Y_salmon_fit),
            ("brown", Y_brown_pts, Y_brown_fit), ("olivesq", Y_olivesq_pts, Y_olivesq_fit),
            ("orange", Y_orange_pts, Y_orange_fit), ("lime", Y_lime_pts, Y_lime_fit),
            ("steel", Y_steel_pts, Y_steel_fit), ("cyan", Y_cyan_pts, Y_cyan_fit), ("red", Y_red_pts, Y_red_fit),
            ("magcirc", Y_magcirc_pts, Y_magcirc_fit), ("magtri", Y_magtri_pts, Y_magtri_fit),
            ("green", Y_green_pts, Y_green_fit), ("lslate", Y_lslate_pts, Y_lslate_fit),
            ("blue", Y_blue_pts, Y_blue_fit), ("purple", Y_purple2_pts, Y_purple2_fit),
            ("purple", Y_purple_pts, Y_purple_fit), ("olive", Y_olive_pts, Y_olive_fit),
            ("black", Y_black_a_pts, Y_black_a_fit), ("black", Y_black_b_pts, Y_black_b_fit)]),
    (2, 1, [("dkgreen", J_dkgreen_pts, J_dkgreen_fit), ("brown", J_brown_pts, J_brown_fit),
            ("salmon", J_salmon_pts, J_salmon_fit), ("tan", J_tan_pts, J_tan_fit),
            ("olivesq", J_olivesq_pts, J_olivesq_fit), ("orange", J_orange_pts, J_orange_fit),
            ("lime", J_lime_pts, J_lime_fit), ("steel", J_steel_pts, J_steel_fit), ("cyan", J_cyan_pts, J_cyan_fit),
            ("red", J_red_pts, J_red_fit), ("magcirc", J_magcirc_pts, J_magcirc_fit),
            ("magtri", J_magtri_pts, J_magtri_fit), ("green", J_green_pts, J_green_fit),
            ("lslate", J_lslate_pts, J_lslate_fit), ("blue", J_blue_pts, J_blue_fit),
            ("olive", J_olive_pts, J_olive_fit), ("purple", J_purple2_pts, None),
            ("purple", J_purple_pts, J_purple_fit),
            ("black", J_black_a_pts, J_black_a_fit), ("black", J_black_b_pts, J_black_b_fit)]),
    (2, 2, [("tan", H_tan_pts, H_tan_fit), ("brown", H_brown_pts, H_brown_fit), ("salmon", H_salmon_pts, H_salmon_fit),
            ("olivesq", H_olivesq_pts, H_olivesq_fit), ("orange", H_orange_pts, H_orange_fit),
            ("lime", H_lime_pts, H_lime_fit), ("steel", H_steel_pts, H_steel_fit), ("cyan", H_cyan_pts, H_cyan_fit),
            ("red", H_red_pts, H_red_fit), ("magcirc", H_magcirc_pts, H_magcirc_fit),
            ("magtri", H_magtri_pts, H_magtri_fit), ("green", H_green_pts, H_green_fit),
            ("lslate", H_lslate_pts, H_lslate_fit), ("blue", H_blue_pts, H_blue_fit),
            ("olive", H_olive_pts, H_olive_fit), ("purple", H_purple2_pts, H_purple2_fit),
            ("purple", H_purple_pts, H_purple_fit),
            ("black", H_black_a_pts, H_black_a_fit), ("black", H_black_b_pts, H_black_b_fit)]),
]

FONT = "DejaVu Serif"
AXIS_COLOR = "#333333"

fig = make_subplots(rows=2, cols=2, horizontal_spacing=0, vertical_spacing=0)

for row, col, entries in PANELS:
    for key, pts, fit in entries:
        color, symbol, size, lw = STYLE[key]
        lwidth = 1.1 if key == "black" else 1.3
        if fit:
            fig.add_trace(go.Scatter(
                x=[p[0] for p in fit], y=[p[1] for p in fit], mode="lines",
                line=dict(color=color, width=lwidth, shape="spline", smoothing=1.0),
                hoverinfo="skip", showlegend=False), row=row, col=col)
        if pts:
            fig.add_trace(go.Scatter(
                x=[p[0] for p in pts], y=[p[1] for p in pts], mode="markers",
                marker=dict(symbol=symbol, size=size, color=color,
                            line=dict(color=color, width=lw)),
                showlegend=False), row=row, col=col)

for r in (1, 2):
    for c in (1, 2):
        fig.update_xaxes(
            range=x_range, tickmode="array", tickvals=x_tick_vals, ticktext=x_tick_text,
            ticks="inside", ticklen=26, tickwidth=2, tickcolor=AXIS_COLOR,
            minor=dict(tickmode="linear", tick0=0, dtick=5, ticks="inside", ticklen=13,
                       tickwidth=1.5, tickcolor=AXIS_COLOR),
            showline=True, linecolor=AXIS_COLOR, linewidth=2, mirror="allticks",
            showgrid=False, zeroline=False, showticklabels=(r == 2),
            tickfont=dict(family=FONT, size=40, color="#111111"), ticklabelstandoff=2,
            row=r, col=c)
        fig.update_yaxes(
            range=y_range, tickmode="array", tickvals=y_tick_vals, ticktext=y_tick_text,
            ticks="inside", ticklen=26, tickwidth=2, tickcolor=AXIS_COLOR,
            minor=dict(tickmode="linear", tick0=-19, dtick=0.2, ticks="inside", ticklen=13,
                       tickwidth=1.5, tickcolor=AXIS_COLOR),
            showline=True, linecolor=AXIS_COLOR, linewidth=2, mirror="allticks",
            showgrid=False, zeroline=False, showticklabels=(c == 1),
            tickfont=dict(family=FONT, size=40, color="#111111"), ticklabelstandoff=16,
            row=r, col=c)

axis_refs = [("x", "y"), ("x2", "y2"), ("x3", "y3"), ("x4", "y4")]
annotations = []
for (xr, yr), name in zip(axis_refs, panel_names):
    annotations.append(dict(x=60, y=-18.79, xref=xr, yref=yr, text=name, showarrow=False,
                            font=dict(family=FONT, size=30, color="#111111")))
annotations.append(dict(x=0.5, y=-0.098, xref="paper", yref="paper", text=x_title, showarrow=False,
                        xanchor="center", yanchor="middle", font=dict(family=FONT, size=47, color="#111111")))
annotations.append(dict(x=-0.1527, y=0.4995, xref="paper", yref="paper", text=y_title, showarrow=False,
                        textangle=-90, xanchor="center", yanchor="middle",
                        font=dict(family=FONT, size=46, color="#111111")))

BEIGE = "#c7c5a4"
shapes = [
    dict(type="rect", xref="paper", yref="paper", x0=-0.1926, x1=-0.1878, y0=-0.143, y1=1.035,
         fillcolor=BEIGE, line=dict(width=0), layer="above"),
    dict(type="rect", xref="paper", yref="paper", x0=-0.1926, x1=1.018, y0=1.0294, y1=1.035,
         fillcolor=BEIGE, line=dict(width=0), layer="above"),
]

fig.update_layout(
    width=1275, height=1283,
    margin=dict(l=203, r=18, t=37, b=155),
    paper_bgcolor="white", plot_bgcolor="white",
    showlegend=False, annotations=annotations, shapes=shapes,
    font=dict(family=FONT, color="#111111"),
)

fig.write_html("out.html")
